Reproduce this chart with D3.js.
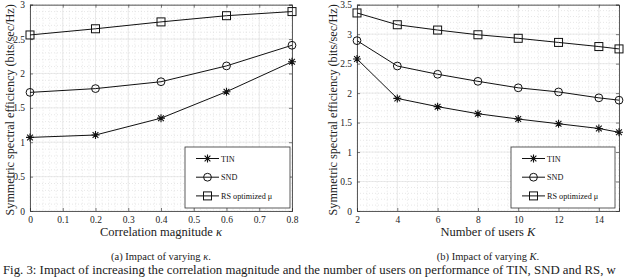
<!DOCTYPE html>
<html>
<head>
<meta charset="utf-8">
<script src="https://cdn.jsdelivr.net/npm/d3@7"></script>
<style>
  body { margin: 0; background: #fff; }
  svg { display: block; font-family: "Liberation Serif", "DejaVu Serif", serif; }
</style>
</head>
<body>
<div id="chart"></div>
<script>
// panel (a): correlation magnitude
const kappa = [0, 0.2, 0.4, 0.6, 0.8];
const tinA = [1.07, 1.105, 1.35, 1.735, 2.17];
const sndA = [1.725, 1.78, 1.88, 2.11, 2.41];
const rsA = [2.56, 2.65, 2.75, 2.84, 2.90];

// panel (b): number of users
const users = [2, 4, 6, 8, 10, 12, 14, 15];
const tinB = [2.58, 1.91, 1.77, 1.65, 1.56, 1.48, 1.40, 1.335];
const sndB = [2.89, 2.46, 2.32, 2.20, 2.09, 2.02, 1.92, 1.88];
const rsB = [3.36, 3.16, 3.07, 2.99, 2.93, 2.86, 2.79, 2.75];

const seriesNames = ["TIN", "SND", "RS optimized μ"];
const markers = ["star", "circle", "square"];

const svg = d3.select("#chart").append("svg")
    .attr("width", 640)
    .attr("height", 277);

function drawMarker(g, type, x, y) {
    if (type === "star") {
        const r = 4;
        const d = r * 0.72;
        g.append("path")
            .attr("d", `M${x - r},${y}L${x + r},${y}M${x},${y - r}L${x},${y + r}` +
                       `M${x - d},${y - d}L${x + d},${y + d}M${x - d},${y + d}L${x + d},${y - d}`)
            .attr("stroke", "#111").attr("stroke-width", 1.1).attr("fill", "none");
    } else if (type === "circle") {
        g.append("circle").attr("cx", x).attr("cy", y).attr("r", 3.9)
            .attr("stroke", "#111").attr("stroke-width", 1).attr("fill", "none");
    } else {
        g.append("rect").attr("x", x - 4).attr("y", y - 4).attr("width", 8).attr("height", 8)
            .attr("stroke", "#111").attr("stroke-width", 1).attr("fill", "none");
    }
}

function drawPanel(opt) {
    const x = d3.scaleLinear().domain(opt.xDomain).range([opt.left, opt.right]);
    const y = d3.scaleLinear().domain(opt.yDomain).range([opt.bottom, opt.top]);
    const g = svg.append("g");

    // minor grid (dotted)
    const xMinor = d3.range(opt.xDomain[0], opt.xDomain[1] + 1e-9, opt.xMinorStep);
    const yMinor = d3.range(opt.yDomain[0], opt.yDomain[1] + 1e-9, 0.1);
    g.selectAll(".xminor").data(xMinor).enter().append("line")
        .attr("x1", d => x(d)).attr("x2", d => x(d))
        .attr("y1", opt.top).attr("y2", opt.bottom)
        .attr("stroke", "#d6d6d6").attr("stroke-width", 0.6).attr("stroke-dasharray", "1,2");
    g.selectAll(".yminor").data(yMinor).enter().append("line")
        .attr("y1", d => y(d)).attr("y2", d => y(d))
        .attr("x1", opt.left).attr("x2", opt.right)
        .attr("stroke", "#d6d6d6").attr("stroke-width", 0.6).attr("stroke-dasharray", "1,2");

    // major grid
    g.selectAll(".xmajor").data(opt.xTicks).enter().append("line")
        .attr("x1", d => x(d)).attr("x2", d => x(d))
        .attr("y1", opt.top).attr("y2", opt.bottom)
        .attr("stroke", "#e2e2e2").attr("stroke-width", 0.7);
    g.selectAll(".ymajor").data(opt.yTicks).enter().append("line")
        .attr("y1", d => y(d)).attr("y2", d => y(d))
        .attr("x1", opt.left).attr("x2", opt.right)
        .attr("stroke", "#e2e2e2").attr("stroke-width", 0.7);

    // axes with inward ticks
    g.append("g").attr("transform", `translate(0,${opt.bottom})`)
        .call(d3.axisBottom(x).tickValues(opt.xTicks).tickSize(-3).tickPadding(5).tickFormat(d3.format("")));
    g.append("g").attr("transform", `translate(0,${opt.top})`)
        .call(d3.axisTop(x).tickValues(opt.xTicks).tickSize(-3).tickFormat(""));
    g.append("g").attr("transform", `translate(${opt.left},0)`)
        .call(d3.axisLeft(y).tickValues(opt.yTicks).tickSize(-3).tickPadding(5).tickFormat(d3.format("")));
    g.append("g").attr("transform", `translate(${opt.right},0)`)
        .call(d3.axisRight(y).tickValues(opt.yTicks).tickSize(-3).tickFormat(""));
    g.selectAll(".domain").attr("stroke", "#333").attr("stroke-width", 0.8);
    g.selectAll(".tick line").attr("stroke", "#444").attr("stroke-width", 0.7);
    g.selectAll(".tick text").attr("font-family", "Liberation Serif, serif")
        .attr("font-size", 9.5).attr("fill", "#222");

    // series
    const line = d3.line().x(d => x(d[0])).y(d => y(d[1]));
    opt.series.forEach((vals, i) => {
        const pts = opt.xs.map((xv, j) => [xv, vals[j]]);
        g.append("path").datum(pts).attr("d", line)
            .attr("fill", "none").attr("stroke", "#111").attr("stroke-width", 1);
        pts.forEach(p => drawMarker(g, markers[i], x(p[0]), y(p[1])));
    });

    // legend
    const L = opt.legend;
    g.append("rect").attr("x", L.x).attr("y", L.y).attr("width", L.w).attr("height", L.h)
        .attr("fill", "#fff").attr("stroke", "#333").attr("stroke-width", 0.8);
    seriesNames.forEach((name, i) => {
        const ly = L.y + 11.5 + i * 18.7;
        g.append("line").attr("x1", L.x + 11).attr("x2", L.x + 34)
            .attr("y1", ly).attr("y2", ly).attr("stroke", "#111").attr("stroke-width", 1);
        drawMarker(g, markers[i], L.x + 22.5, ly);
        g.append("text").attr("x", L.x + 36).attr("y", ly + 3)
            .attr("font-size", 8.2).attr("fill", "#111").text(name);
    });

    // labels
    svg.append("text")
        .attr("transform", `translate(${opt.yLabelX},${(opt.top + opt.bottom) / 2 + 2}) rotate(-90)`)
        .attr("text-anchor", "middle").attr("font-size", 12.2).attr("fill", "#222")
        .text("Symmetric spectral efficiency (bits/sec/Hz)");
    svg.append("text").attr("x", (opt.left + opt.right) / 2).attr("y", 236)
        .attr("text-anchor", "middle").attr("font-size", 12.5).attr("fill", "#222")
        .html(opt.xLabel);
    svg.append("text").attr("x", (opt.left + opt.right) / 2).attr("y", 260)
        .attr("text-anchor", "middle").attr("font-size", 10.5).attr("fill", "#222")
        .html(opt.caption);
}

drawPanel({
    left: 30, right: 292, top: 4.7, bottom: 211,
    xDomain: [0, 0.8], yDomain: [0, 3], xMinorStep: 0.02,
    xTicks: d3.range(0, 0.81, 0.1).map(v => +v.toFixed(1)),
    yTicks: [0, 0.5, 1, 1.5, 2, 2.5, 3],
    xs: kappa, series: [tinA, sndA, rsA],
    legend: {x: 185, y: 147, w: 105, h: 61},
    yLabelX: 14,
    xLabel: "Correlation magnitude <tspan font-style='italic'>κ</tspan>",
    caption: "(a) Impact of varying <tspan font-style='italic'>κ</tspan>."
});

drawPanel({
    left: 357, right: 619, top: 4.7, bottom: 211,
    xDomain: [2, 15], yDomain: [0, 3.5], xMinorStep: 0.5,
    xTicks: [2, 4, 6, 8, 10, 12, 14],
    yTicks: [0, 0.5, 1, 1.5, 2, 2.5, 3, 3.5],
    xs: users, series: [tinB, sndB, rsB],
    legend: {x: 511, y: 147, w: 104, h: 61},
    yLabelX: 337,
    xLabel: "Number of users <tspan font-style='italic'>K</tspan>",
    caption: "(b) Impact of varying <tspan font-style='italic'>K</tspan>."
});

svg.append("text").attr("x", 3).attr("y", 273.5)
    .attr("font-size", 12.8).attr("fill", "#222")
    .text("Fig. 3: Impact of increasing the correlation magnitude and the number of users on performance of TIN, SND and RS, w");
</script>
</body>
</html>
